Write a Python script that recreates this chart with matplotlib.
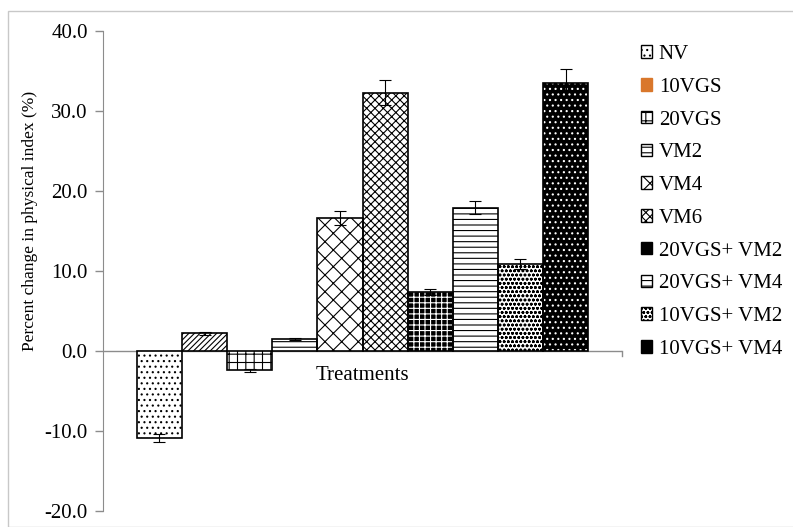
import matplotlib
matplotlib.use("Agg")
import numpy as np
import matplotlib.pyplot as plt
from matplotlib.patches import Patch, Rectangle

plt.rcParams['font.family'] = ['Liberation Serif', 'DejaVu Serif']
plt.rcParams['hatch.linewidth'] = 0.8

treatments = ['NV', '10VGS', '20VGS', 'VM2', 'VM4', 'VM6',
              '20VGS+ VM2', '20VGS+ VM4', '10VGS+ VM2', '10VGS+ VM4']
values = [-10.9, 2.2, -2.4, 1.5, 16.6, 32.3, 7.4, 17.9, 10.9, 33.5]
errors = [0.5, 0.2, 0.2, 0.15, 0.9, 1.6, 0.4, 0.8, 0.6, 1.8]
hatches = ['...', '//////', '++', '---', 'xx', 'xxxx', '+++', '---', 'oooo', '...']
faces = ['white'] * 6 + ['black', 'white', 'white', 'black']
hatch_cols = ['black'] * 6 + ['white', 'black', 'black', 'white']
legend_10vgs = '#D9772B'

fig = plt.figure(figsize=(7.93, 5.27), dpi=100)
ax = fig.add_axes([103/793, 1 - 511/527, (622 - 103)/793, 480/527])

x = np.arange(len(values))
bars = ax.bar(x, values, width=1.0, color=faces, edgecolor=hatch_cols,
              linewidth=0, hatch=hatches, zorder=2)
ax.bar(x, values, width=1.0, fill=False, edgecolor='black', linewidth=1.2, zorder=3)
ax.errorbar(x, values, yerr=errors, fmt='none', ecolor='black',
            elinewidth=0.8, capsize=4, capthick=0.8, zorder=4)

ax.set_xlim(-1.25, 10.25)
ax.set_ylim(-20, 40)
ax.set_yticks(np.arange(-20, 41, 10))
ax.set_yticklabels(['%.1f' % v for v in np.arange(-20, 41, 10)], fontsize=15)
ax.tick_params(axis='y', colors='#8c8c8c', labelcolor='black', length=6, width=1, pad=5)
ax.set_xticks([])
for s in ['top', 'right', 'bottom']:
    ax.spines[s].set_visible(False)
ax.spines['left'].set_color('#8c8c8c')
ax.axhline(0, color='#8c8c8c', linewidth=1, zorder=1)
ax.plot([10.25, 10.25], [0, -0.6], color='#8c8c8c', linewidth=1, clip_on=False)

ax.text(4.5, -3.0, 'Treatments', ha='center', va='center', fontsize=15)
fig.text(30/793, 1 - 221/527, 'Percent change in physical index (%)',
         rotation=90, ha='center', va='center', fontsize=12.5)

handles = []
for i, b in enumerate(bars):
    if i == 1:
        handles.append(Patch(facecolor=legend_10vgs, edgecolor=legend_10vgs))
    else:
        handles.append(Patch(facecolor=faces[i], edgecolor='black', hatch=hatches[i]))
fig.legend(handles, treatments, loc='upper left', bbox_to_anchor=(641/793, 1 - 45/527),
           frameon=False, fontsize=15, handlelength=0.55, handleheight=0.55,
           handletextpad=0.3, labelspacing=0.66, borderaxespad=0, borderpad=0)

fig.patches.append(Rectangle((8/793, 0), 1, 1 - 11/527, transform=fig.transFigure,
                             fill=False, edgecolor='#c8c8c8', linewidth=1))

fig.savefig('out.png', dpi=100)
